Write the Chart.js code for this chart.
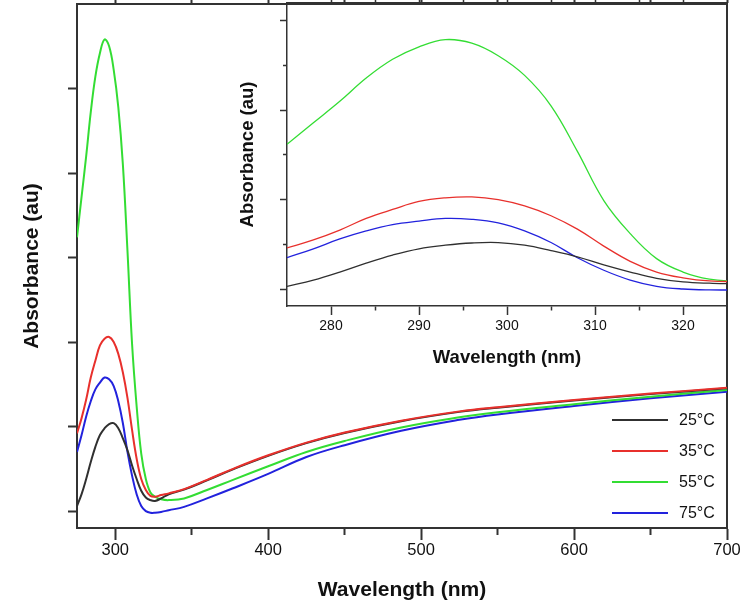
<!DOCTYPE html>
<html>
<head>
<meta charset="utf-8">
<script src="https://cdn.jsdelivr.net/npm/chart.js@4"></script>
<style>
  body { margin: 0; background: #fff; }
  #wrap { position: relative; width: 750px; height: 614px; overflow: hidden; }
  #mainChart  { position: absolute; left: 0; top: 0; }
  #insetChart { position: absolute; left: 230px; top: 0; }
  .key {
    position: absolute; left: 612px; height: 20px;
    display: flex; align-items: center;
    font: 16px 'Liberation Sans', Arial, sans-serif; color: #111;
  }
  .key i { display: block; width: 56px; height: 2px; margin-right: 11px; }
</style>
</head>
<body>
<div id="wrap">
  <canvas id="mainChart" width="750" height="614"></canvas>
  <canvas id="insetChart" width="520" height="380"></canvas>
</div>
<script>
// ── Data ──────────────────────────────────────────────────────────────────

const WAVELENGTH = [275, 278, 281, 284, 287, 290, 293, 296, 299, 302, 305, 308, 311, 314, 317,
                    320, 323, 326, 330, 335, 345, 360, 377, 400, 425, 450, 487, 525, 550, 600, 650, 700];

const ABS_25 = [0.03, 0.10, 0.19, 0.29, 0.38, 0.45, 0.49, 0.515, 0.52, 0.49, 0.43, 0.36, 0.27, 0.19, 0.12,
                0.08, 0.065, 0.06, 0.075, 0.10, 0.127, 0.182, 0.247, 0.327, 0.402, 0.462, 0.532, 0.587, 0.612, 0.654, 0.692, 0.727];
const ABS_35 = [0.46, 0.55, 0.66, 0.79, 0.89, 0.98, 1.02, 1.03, 1.00, 0.93, 0.82, 0.67, 0.48, 0.31, 0.19,
                0.125, 0.09, 0.085, 0.095, 0.105, 0.13, 0.185, 0.25, 0.33, 0.405, 0.465, 0.535, 0.59, 0.615, 0.657, 0.695, 0.73];
const ABS_55 = [1.62, 1.86, 2.10, 2.36, 2.57, 2.71, 2.79, 2.75, 2.61, 2.39, 2.05, 1.54, 0.99, 0.62, 0.34,
                0.19, 0.11, 0.085, 0.07, 0.065, 0.075, 0.125, 0.185, 0.265, 0.35, 0.415, 0.495, 0.555, 0.585, 0.632, 0.677, 0.716];
const ABS_75 = [0.35, 0.45, 0.56, 0.65, 0.72, 0.76, 0.79, 0.78, 0.74, 0.65, 0.52, 0.35, 0.21, 0.10, 0.03,
                0.00, -0.01, -0.01, -0.005, 0.005, 0.025, 0.075, 0.135, 0.22, 0.32, 0.39, 0.475, 0.54, 0.572, 0.622, 0.667, 0.706];

const SERIES_LABELS = ['25°C', '35°C', '55°C', '75°C'];
const SERIES_VALUES = [ABS_25, ABS_35, ABS_55, ABS_75];

const MAIN_X_TICKS  = [300, 350, 400, 450, 500, 550, 600, 650, 700];
const MAIN_Y_TICKS  = [0, 0.5, 1, 1.5, 2, 2.5];
const INSET_X_TICKS = [280, 285, 290, 295, 300, 305, 310, 315, 320];
const INSET_Y_TICKS = [0, 0.5, 1, 1.5, 2, 2.5, 3];

// ── Styling ───────────────────────────────────────────────────────────────

const COLORS = ['#303030', '#e8302c', '#33dd33', '#2222dd'];
const DRAW_ORDER = [1, 0, 2, 3];   // red is drawn over black where they overlap
const AXIS   = '#333';
const INK    = '#111';

Chart.defaults.font.family = "'Liberation Sans', Arial, sans-serif";
Chart.defaults.color = INK;

const setTicks = list => scale => { scale.ticks = list.map(v => ({ value: v })); };

function makeDatasets(width) {
  return SERIES_VALUES.map((vals, i) => ({
    label: SERIES_LABELS[i],
    data: WAVELENGTH.map((w, j) => ({ x: w, y: vals[j] })),
    borderColor: COLORS[i],
    borderWidth: width,
    order: DRAW_ORDER[i],
    pointRadius: 0,
    tension: 0.4,
    fill: false,
  }));
}

// ── Main chart ────────────────────────────────────────────────────────────

new Chart(document.getElementById('mainChart'), {
  type: 'line',
  data: { datasets: makeDatasets(2) },
  options: {
    responsive: false,
    animation: false,
    layout: { padding: { left: 0, right: 23, top: 0, bottom: 0 } },
    plugins: { legend: { display: false }, tooltip: { enabled: false } },
    scales: {
      x: {
        type: 'linear', min: 275, max: 700,
        afterBuildTicks: setTicks(MAIN_X_TICKS),
        afterFit: s => { s.height = 86; },
        grid: {
          drawOnChartArea: false, tickLength: 12, tickWidth: 2, tickColor: AXIS,
          tickBorderDash: ctx => (ctx.tick && ctx.tick.value % 100) ? [6, 20] : [],
        },
        border: { color: AXIS, width: 2 },
        ticks: {
          autoSkip: false, maxRotation: 0, padding: 1, color: INK,
          font: { size: 16.5 },
          callback: v => (v % 100 ? '' : String(v)),
        },
        title: {
          display: true, text: 'Wavelength (nm)', color: INK,
          font: { size: 21, weight: 'bold' }, padding: { top: 0, bottom: 11 },
        },
      },
      y: {
        min: -0.1, max: 3.0,
        afterBuildTicks: setTicks(MAIN_Y_TICKS),
        afterFit: s => { s.width = 77; },
        grid: { drawOnChartArea: false, tickLength: 9, tickWidth: 2, tickColor: AXIS },
        border: { color: AXIS, width: 2 },
        ticks: { display: false },
        title: {
          display: true, text: 'Absorbance (au)', color: INK,
          font: { size: 21, weight: 'bold' }, padding: { top: 20, bottom: 0 },
        },
      },
      xTop: {
        type: 'linear', position: 'top', min: 275, max: 700,
        afterBuildTicks: setTicks(MAIN_X_TICKS),
        afterFit: s => { s.height = 4; },
        grid: { drawOnChartArea: false, tickLength: 4, tickWidth: 2, tickColor: AXIS },
        border: { color: AXIS, width: 2 },
        ticks: { display: false },
      },
      yRight: {
        position: 'right', min: -0.1, max: 3.0,
        afterFit: s => { s.width = 0; },
        grid: { display: false },
        border: { color: AXIS, width: 2 },
        ticks: { display: false },
      },
    },
  },
});

// ── Inset (zoom on the 275–325 nm band) ───────────────────────────────────

new Chart(document.getElementById('insetChart'), {
  type: 'line',
  data: { datasets: makeDatasets(1.3) },
  options: {
    responsive: false,
    animation: false,
    layout: { padding: { left: 0, right: 23, top: 0, bottom: 0 } },
    plugins: { legend: { display: false }, tooltip: { enabled: false } },
    scales: {
      x: {
        type: 'linear', min: 275, max: 325,
        afterBuildTicks: setTicks(INSET_X_TICKS),
        afterFit: s => { s.height = 74; },
        grid: {
          drawOnChartArea: false, tickLength: 9, tickWidth: 1.5, tickColor: AXIS,
          tickBorderDash: ctx => (ctx.tick && ctx.tick.value % 10) ? [4, 20] : [],
        },
        border: { color: AXIS, width: 1.5 },
        ticks: {
          autoSkip: false, maxRotation: 0, padding: 3, color: INK,
          font: { size: 14 },
          callback: v => (v % 10 ? '' : String(v)),
        },
        title: {
          display: true, text: 'Wavelength (nm)', color: INK,
          font: { size: 18.5, weight: 'bold' }, padding: { top: 0, bottom: 11 },
        },
      },
      y: {
        min: -0.19, max: 3.2,
        afterBuildTicks: setTicks(INSET_Y_TICKS),
        afterFit: s => { s.width = 57; },
        grid: {
          drawOnChartArea: false, tickLength: 7, tickWidth: 1.5, tickColor: AXIS,
          tickBorderDash: ctx => (ctx.tick && ctx.tick.value % 1) ? [0, 3, 4, 20] : [],
        },
        border: { color: AXIS, width: 1.5 },
        ticks: { display: false },
        title: {
          display: true, text: 'Absorbance (au)', color: INK,
          font: { size: 18.5, weight: 'bold' }, padding: { top: 7, bottom: 0 },
        },
      },
      xTop: {
        type: 'linear', position: 'top', min: 275, max: 325,
        afterBuildTicks: setTicks(INSET_X_TICKS),
        afterFit: s => { s.height = 3; },
        grid: { drawOnChartArea: false, tickLength: 3, tickWidth: 1.5, tickColor: AXIS },
        border: { color: AXIS, width: 1.5 },
        ticks: { display: false },
      },
      yRight: {
        position: 'right', min: -0.19, max: 3.2,
        afterFit: s => { s.width = 0; },
        grid: { display: false },
        border: { color: AXIS, width: 1.5 },
        ticks: { display: false },
      },
    },
  },
});

// ── Legend (bottom right of main plot) ────────────────────────────────────

const wrap = document.getElementById('wrap');
SERIES_LABELS.forEach((label, i) => {
  const row = document.createElement('div');
  row.className = 'key';
  row.style.top = (410 + i * 31) + 'px';
  row.innerHTML = `<i style="background:${COLORS[i]}"></i><span>${label}</span>`;
  wrap.appendChild(row);
});
</script>
</body>
</html>
